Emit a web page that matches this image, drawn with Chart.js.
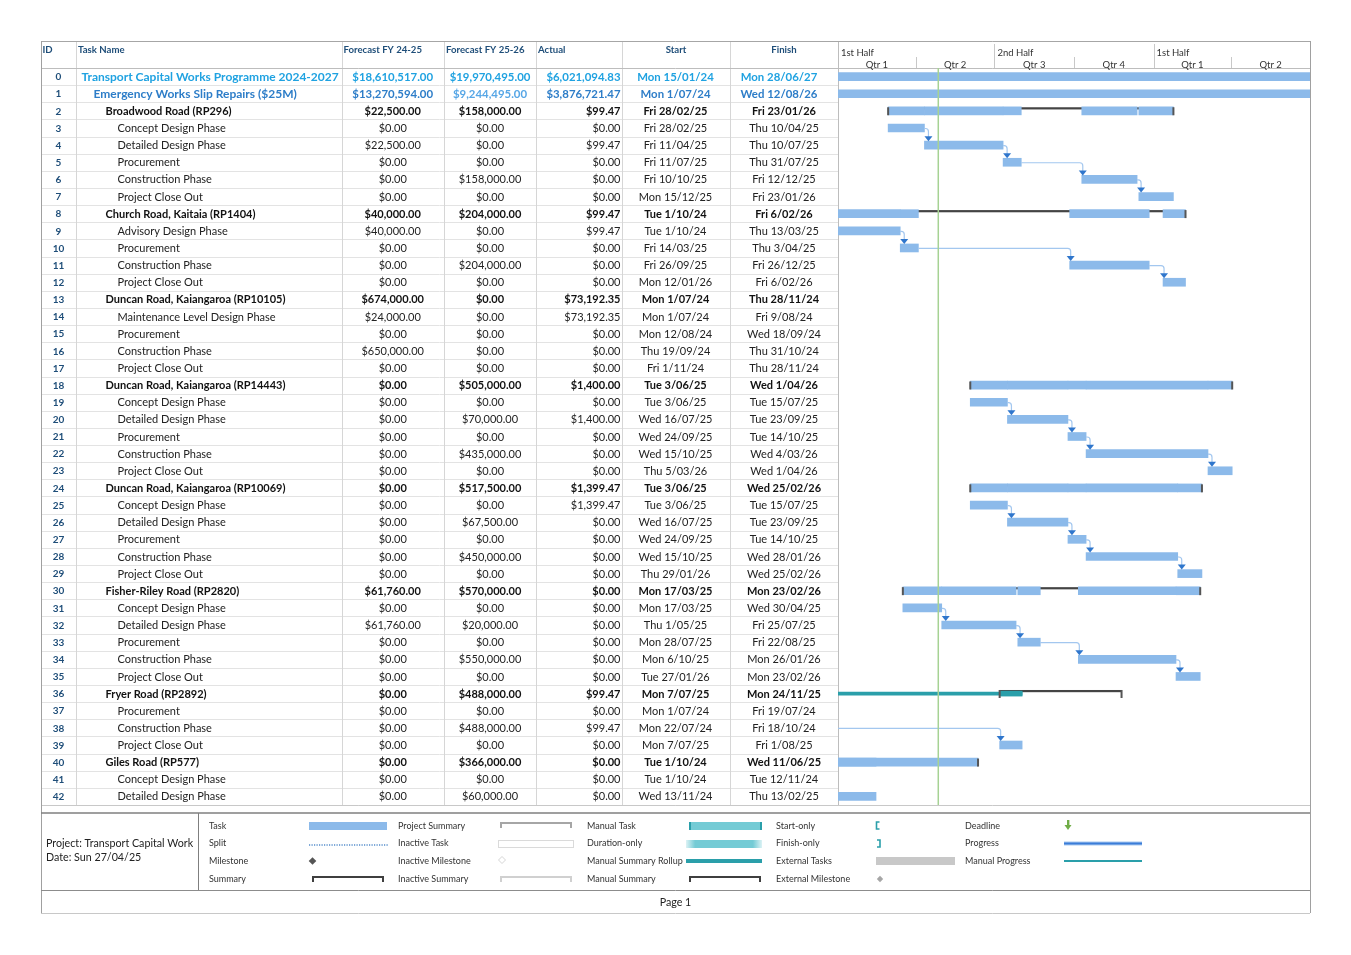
<!DOCTYPE html>
<html>
<head>
<meta charset="utf-8">
<title>Transport Capital Works Programme 2024-2027</title>
<script src="https://cdn.jsdelivr.net/npm/chart.js@4.4.1/dist/chart.umd.min.js"></script>
<style>
  html, body { margin: 0; padding: 0; background: #fff; }
  canvas { display: block; }
</style>
</head>
<body>
<canvas id="gantt" width="1351" height="955"></canvas>
<script>
// ---- data ----
const taskNames = [
  'Transport Capital Works Programme 2024-2027',
  'Emergency Works Slip Repairs ($25M)',
  'Broadwood Road (RP296)',
  'Concept Design Phase',
  'Detailed Design Phase',
  'Procurement',
  'Construction Phase',
  'Project Close Out',
  'Church Road, Kaitaia (RP1404)',
  'Advisory Design Phase',
  'Procurement',
  'Construction Phase',
  'Project Close Out',
  'Duncan Road, Kaiangaroa (RP10105)',
  'Maintenance Level Design Phase',
  'Procurement',
  'Construction Phase',
  'Project Close Out',
  'Duncan Road, Kaiangaroa (RP14443)',
  'Concept Design Phase',
  'Detailed Design Phase',
  'Procurement',
  'Construction Phase',
  'Project Close Out',
  'Duncan Road, Kaiangaroa (RP10069)',
  'Concept Design Phase',
  'Detailed Design Phase',
  'Procurement',
  'Construction Phase',
  'Project Close Out',
  'Fisher-Riley Road (RP2820)',
  'Concept Design Phase',
  'Detailed Design Phase',
  'Procurement',
  'Construction Phase',
  'Project Close Out',
  'Fryer Road (RP2892)',
  'Procurement',
  'Construction Phase',
  'Project Close Out',
  'Giles Road (RP577)',
  'Concept Design Phase',
  'Detailed Design Phase'
];

// outline level: 0 programme, 1 sub-programme, 2 project summary, 3 task
const levels = [0, 1,
  2, 3, 3, 3, 3, 3,
  2, 3, 3, 3, 3,
  2, 3, 3, 3, 3,
  2, 3, 3, 3, 3, 3,
  2, 3, 3, 3, 3, 3,
  2, 3, 3, 3, 3, 3,
  2, 3, 3, 3,
  2, 3, 3];

const forecast2425 = [18610517, 13270594,
  22500, 0, 22500, 0, 0, 0,
  40000, 40000, 0, 0, 0,
  674000, 24000, 0, 650000, 0,
  0, 0, 0, 0, 0, 0,
  0, 0, 0, 0, 0, 0,
  61760, 0, 61760, 0, 0, 0,
  0, 0, 0, 0,
  0, 0, 0];

const forecast2526 = [19970495, 9244495,
  158000, 0, 0, 0, 158000, 0,
  204000, 0, 0, 204000, 0,
  0, 0, 0, 0, 0,
  505000, 0, 70000, 0, 435000, 0,
  517500, 0, 67500, 0, 450000, 0,
  570000, 0, 20000, 0, 550000, 0,
  488000, 0, 488000, 0,
  366000, 0, 60000];

const actualCost = [6021094.83, 3876721.47,
  99.47, 0, 99.47, 0, 0, 0,
  99.47, 99.47, 0, 0, 0,
  73192.35, 73192.35, 0, 0, 0,
  1400, 0, 1400, 0, 0, 0,
  1399.47, 1399.47, 0, 0, 0, 0,
  0, 0, 0, 0, 0, 0,
  99.47, 0, 99.47, 0,
  0, 0, 0];

const startDates = ['Mon 15/01/24', 'Mon 1/07/24',
  'Fri 28/02/25', 'Fri 28/02/25', 'Fri 11/04/25', 'Fri 11/07/25', 'Fri 10/10/25', 'Mon 15/12/25',
  'Tue 1/10/24', 'Tue 1/10/24', 'Fri 14/03/25', 'Fri 26/09/25', 'Mon 12/01/26',
  'Mon 1/07/24', 'Mon 1/07/24', 'Mon 12/08/24', 'Thu 19/09/24', 'Fri 1/11/24',
  'Tue 3/06/25', 'Tue 3/06/25', 'Wed 16/07/25', 'Wed 24/09/25', 'Wed 15/10/25', 'Thu 5/03/26',
  'Tue 3/06/25', 'Tue 3/06/25', 'Wed 16/07/25', 'Wed 24/09/25', 'Wed 15/10/25', 'Thu 29/01/26',
  'Mon 17/03/25', 'Mon 17/03/25', 'Thu 1/05/25', 'Mon 28/07/25', 'Mon 6/10/25', 'Tue 27/01/26',
  'Mon 7/07/25', 'Mon 1/07/24', 'Mon 22/07/24', 'Mon 7/07/25',
  'Tue 1/10/24', 'Tue 1/10/24', 'Wed 13/11/24'];

const finishDates = ['Mon 28/06/27', 'Wed 12/08/26',
  'Fri 23/01/26', 'Thu 10/04/25', 'Thu 10/07/25', 'Thu 31/07/25', 'Fri 12/12/25', 'Fri 23/01/26',
  'Fri 6/02/26', 'Thu 13/03/25', 'Thu 3/04/25', 'Fri 26/12/25', 'Fri 6/02/26',
  'Thu 28/11/24', 'Fri 9/08/24', 'Wed 18/09/24', 'Thu 31/10/24', 'Thu 28/11/24',
  'Wed 1/04/26', 'Tue 15/07/25', 'Tue 23/09/25', 'Tue 14/10/25', 'Wed 4/03/26', 'Wed 1/04/26',
  'Wed 25/02/26', 'Tue 15/07/25', 'Tue 23/09/25', 'Tue 14/10/25', 'Wed 28/01/26', 'Wed 25/02/26',
  'Mon 23/02/26', 'Wed 30/04/25', 'Fri 25/07/25', 'Fri 22/08/25', 'Mon 26/01/26', 'Mon 23/02/26',
  'Mon 24/11/25', 'Fri 19/07/24', 'Fri 18/10/24', 'Fri 1/08/25',
  'Wed 11/06/25', 'Tue 12/11/24', 'Thu 13/02/25'];

// Giles Road rolls up tasks that continue on the next page
const offPageRollups = { 40: [['Tue 1/10/24', 'Wed 11/06/25']] };
const manualSummaries = [36];

const statusDate = 'Sun 27/04/25';
const halfStarts = ['Wed 1/01/25', 'Tue 1/07/25', 'Thu 1/01/26'];
const halfLabels = ['1st Half', '2nd Half', '1st Half'];
const quarterStarts = ['Wed 1/01/25', 'Tue 1/04/25', 'Tue 1/07/25', 'Wed 1/10/25', 'Thu 1/01/26', 'Wed 1/04/26'];
const quarterLabels = ['Qtr 1', 'Qtr 2', 'Qtr 3', 'Qtr 4', 'Qtr 1', 'Qtr 2'];
const timelineEnd = 'Wed 1/07/26';

const legendLabels = [
  ['Task', 'Split', 'Milestone', 'Summary'],
  ['Project Summary', 'Inactive Task', 'Inactive Milestone', 'Inactive Summary'],
  ['Manual Task', 'Duration-only', 'Manual Summary Rollup', 'Manual Summary'],
  ['Start-only', 'Finish-only', 'External Tasks', 'External Milestone'],
  ['Deadline', 'Progress', 'Manual Progress']
];

// ---- helpers ----
const DAY = 86400000;
function parseDate(s) {
  const [d, m, y] = s.split(' ')[1].split('/').map(Number);
  return Date.UTC(2000 + y, m - 1, d);
}
const money = v => '$' + v.toLocaleString('en-US', {minimumFractionDigits: 2, maximumFractionDigits: 2});

const ids = taskNames.map((_, i) => String(i));
const starts = startDates.map(parseDate);
const ends = finishDates.map(s => parseDate(s) + DAY);

const BLUE = '#8cbaea';
const TEAL = '#2a9faa';
const FONT = 'Lato, "Open Sans", sans-serif';

// children of each summary row, and predecessor links inside each summary
const childrenOf = {};
levels.forEach((lv, i) => {
  if (lv !== 2) return;
  childrenOf[i] = [];
  for (let j = i + 1; j < levels.length && levels[j] === 3; j++) childrenOf[i].push(j);
});
const links = [];
levels.forEach((lv, i) => { if (lv === 3 && levels[i + 1] === 3) links.push([i, i + 1]); });

function rollupSegments(i) {
  const segs = childrenOf[i].map(j => [starts[j], ends[j]]);
  (offPageRollups[i] || []).forEach(r => segs.push([parseDate(r[0]), parseDate(r[1]) + DAY]));
  return segs;
}

function rollupDatasets(manual) {
  const rows = Object.keys(childrenOf).map(Number).filter(i => manualSummaries.includes(i) === manual);
  const maxSegs = Math.max(...rows.map(i => rollupSegments(i).length));
  const sets = [];
  for (let k = 0; k < maxSegs; k++) {
    sets.push({
      label: manual ? 'Manual Rollup ' + k : 'Rollup ' + k,
      data: ids.map((_, i) => rows.includes(i) ? (rollupSegments(i)[k] || null) : null),
      backgroundColor: manual ? TEAL : BLUE,
      barThickness: manual ? 5 : 8
    });
  }
  return sets;
}

const manualSpan = ids.map((_, i) => {
  if (!manualSummaries.includes(i)) return null;
  const segs = rollupSegments(i);
  return [Math.min(...segs.map(s => s[0])), Math.max(...segs.map(s => s[1]))];
});

const rowBars = pred => ids.map((_, i) => pred(i) ? [starts[i], ends[i]] : null);

// ---- drawing helpers for the printout furniture ----
function hline(ctx, x1, x2, y, color, w) {
  ctx.strokeStyle = color; ctx.lineWidth = w || 1;
  ctx.beginPath(); ctx.moveTo(x1, y); ctx.lineTo(x2, y); ctx.stroke();
}
function vline(ctx, x, y1, y2, color, w) {
  ctx.strokeStyle = color; ctx.lineWidth = w || 1;
  ctx.beginPath(); ctx.moveTo(x, y1); ctx.lineTo(x, y2); ctx.stroke();
}
function text(ctx, s, x, y, font, color, align) {
  ctx.font = font; ctx.fillStyle = color; ctx.textAlign = align || 'left'; ctx.textBaseline = 'middle';
  ctx.fillText(s, x, y);
}
function bracket(ctx, x1, x2, y, color) {
  ctx.fillStyle = color;
  ctx.fillRect(x1, y, x2 - x1, 2);
  ctx.fillRect(x1, y, 2, 6);
  ctx.fillRect(x2 - 2, y, 2, 6);
}
function diamond(ctx, x, y, r, fill, stroke) {
  ctx.beginPath();
  ctx.moveTo(x, y - r); ctx.lineTo(x + r, y); ctx.lineTo(x, y + r); ctx.lineTo(x - r, y); ctx.closePath();
  if (fill) { ctx.fillStyle = fill; ctx.fill(); }
  if (stroke) { ctx.strokeStyle = stroke; ctx.lineWidth = 1; ctx.stroke(); }
}

const colEdges = [41, 76, 341.5, 444, 536, 622, 730, 838];

const tablePlugin = {
  id: 'taskTable',
  beforeDraw(chart) {
    const {ctx, chartArea: a, scales: {x, y}} = chart;
    const rowH = y.getPixelForValue(1) - y.getPixelForValue(0);
    ctx.save();
    ctx.fillStyle = '#fff';
    ctx.fillRect(0, 0, chart.width, chart.height);

    // row separators in the sheet
    for (let i = 0; i < ids.length; i++) {
      const yy = Math.round(y.getPixelForValue(i) + rowH / 2) + 0.5;
      hline(ctx, 41, a.left, yy, '#e3e3e3');
    }
    colEdges.slice(1, -1).forEach(cx => vline(ctx, Math.round(cx) + 0.5, 41, a.bottom, '#d6d6d6'));
    vline(ctx, a.left + 0.5, 41, a.bottom, '#bdbdbd');
    hline(ctx, 41, a.right, 41.5, '#a6a6a6');
    hline(ctx, 41, a.right, a.top + 0.5, '#bdbdbd');
    hline(ctx, 41, a.right, a.bottom + 0.5, '#c8c8c8');

    // column headers
    const hf = 'bold 9.6px ' + FONT, hc = '#1f4e79';
    text(ctx, 'ID', 42.5, 49.5, hf, hc);
    text(ctx, 'Task Name', 78, 49.5, hf, hc);
    text(ctx, 'Forecast FY 24-25', 343.5, 49.5, hf, hc);
    text(ctx, 'Forecast FY 25-26', 446, 49.5, hf, hc);
    text(ctx, 'Actual', 538, 49.5, hf, hc);
    text(ctx, 'Start', 676, 49.5, hf, hc, 'center');
    text(ctx, 'Finish', 784, 49.5, hf, hc, 'center');

    // rows
    ids.forEach((id, i) => {
      const cy = y.getPixelForValue(i) + 0.5;
      const lv = levels[i];
      let font, nameFont, col, col2;
      if (lv === 0) { nameFont = 'bold 12px ' + FONT; font = 'bold 11.4px ' + FONT; col = col2 = '#1fa2e1'; }
      else if (lv === 1) { nameFont = 'bold 12px ' + FONT; font = 'bold 11.4px ' + FONT; col = '#2d7dc8'; col2 = '#56a6e6'; }
      else if (lv === 2) { nameFont = font = 'bold 11px ' + FONT; col = col2 = '#111'; }
      else { nameFont = font = '11px ' + FONT; col = col2 = '#222'; }
      text(ctx, id, 58.5, cy, 'bold 10px ' + FONT, '#1f4e79', 'center');
      text(ctx, taskNames[i], 81.5 + lv * 12, cy, nameFont, col);
      text(ctx, money(forecast2425[i]), 392.7, cy, font, col, 'center');
      text(ctx, money(forecast2526[i]), 490, cy, font, col2, 'center');
      text(ctx, money(actualCost[i]), 620.5, cy, font, col, 'right');
      text(ctx, startDates[i], 675.5, cy, font, col, 'center');
      text(ctx, finishDates[i], lv < 2 ? 779 : 784, cy, font, col, 'center');
    });

    // timescale header, two tiers
    const tf = '9.5px ' + FONT;
    halfStarts.forEach((s, k) => {
      const hx = x.getPixelForValue(parseDate(s));
      if (k > 0) vline(ctx, Math.round(hx) + 0.5, 44, a.top, '#c8c8c8');
      text(ctx, halfLabels[k], hx + 3, 52.5, tf, '#333');
    });
    const qEdges = quarterStarts.map(parseDate).concat([parseDate(timelineEnd)]);
    quarterLabels.forEach((q, k) => {
      const q1 = x.getPixelForValue(qEdges[k]), q2 = x.getPixelForValue(qEdges[k + 1]);
      if (k > 0 && !halfStarts.includes(quarterStarts[k])) vline(ctx, Math.round(q1) + 0.5, 57, a.top, '#c8c8c8');
      text(ctx, q, (q1 + q2) / 2, 64.5, tf, '#333', 'center');
    });
    ctx.restore();
  },

  beforeDatasetsDraw(chart) {
    const {ctx, chartArea: a, scales: {x, y}} = chart;
    ctx.save();
    ctx.beginPath(); ctx.rect(a.left, a.top, a.right - a.left, a.bottom - a.top); ctx.clip();
    Object.keys(childrenOf).map(Number).forEach(i => {
      const cy = y.getPixelForValue(i);
      const x1 = x.getPixelForValue(starts[i]), x2 = x.getPixelForValue(ends[i]);
      ctx.fillStyle = '#444';
      ctx.fillRect(x1, cy - 3.6, x2 - x1, 2.2);
    });
    ctx.restore();
  },

  afterDatasetsDraw(chart) {
    const {ctx, chartArea: a, scales: {x, y}} = chart;
    ctx.save();
    ctx.beginPath(); ctx.rect(a.left, a.top, a.right - a.left, a.bottom - a.top); ctx.clip();

    // summary end caps
    Object.keys(childrenOf).map(Number).forEach(i => {
      const cy = y.getPixelForValue(i);
      const x1 = x.getPixelForValue(starts[i]), x2 = x.getPixelForValue(ends[i]);
      ctx.fillStyle = '#555';
      ctx.fillRect(x1 - 1, cy - 3.6, 2, 8);
      ctx.fillRect(x2 - 1, cy - 3.6, 2, 8);
    });

    // finish-to-start links
    links.forEach(([p, s]) => {
      const py = y.getPixelForValue(p) + 0.5;
      const top = y.getPixelForValue(s) - 4;
      const pe = x.getPixelForValue(ends[p]);
      const ax = Math.max(x.getPixelForValue(starts[s]) + 1, pe + 4);
      ctx.strokeStyle = '#a3c7ef'; ctx.lineWidth = 1.2;
      ctx.beginPath();
      ctx.moveTo(pe, py);
      ctx.lineTo(ax - 3, py);
      ctx.quadraticCurveTo(ax, py, ax, py + 3);
      ctx.lineTo(ax, top - 4);
      ctx.stroke();
      ctx.fillStyle = '#2f76cc';
      ctx.beginPath();
      ctx.moveTo(ax - 4, top - 5); ctx.lineTo(ax + 4, top - 5); ctx.lineTo(ax, top); ctx.closePath();
      ctx.fill();
    });

    // status date
    const sx = x.getPixelForValue(parseDate(statusDate));
    vline(ctx, sx, a.top, a.bottom, '#a6d294', 1.5);
    ctx.restore();
  },

  afterDraw(chart) {
    const {ctx, chartArea: a} = chart;
    ctx.save();
    // page frame, legend box and footer
    vline(ctx, 41.5, 41, 913, '#a0a0a0');
    vline(ctx, a.right + 0.5, 41, 913, '#a0a0a0');
    hline(ctx, 41, a.right, 813, '#7f7f7f', 1.5);
    hline(ctx, 41, a.right, 890.5, '#8c8c8c');
    hline(ctx, 41, a.right, 913.5, '#c8c8c8');
    vline(ctx, 198.5, 813, 890, '#7f7f7f');

    text(ctx, 'Project: Transport Capital Work', 46, 843.5, '10.7px ' + FONT, '#222');
    text(ctx, 'Date: ' + statusDate, 46, 858, '10.7px ' + FONT, '#222');

    const ly = [826, 843.5, 861, 879];
    const lx = [209, 398, 587, 776, 965];
    const lf = '9px ' + FONT;
    legendLabels.forEach((col, c) => col.forEach((lab, r) => text(ctx, lab, lx[c], ly[r], lf, '#333')));

    // column 1 symbols
    ctx.fillStyle = BLUE; ctx.fillRect(309, 822, 78, 8);
    ctx.fillStyle = '#7fa9d8';
    for (let px = 309; px < 387; px += 2.5) ctx.fillRect(px, 844, 1.2, 2);
    diamond(ctx, 312.5, 861, 3.8, '#555');
    bracket(ctx, 312, 384, 876, '#3f3f3f');
    // column 2
    bracket(ctx, 500, 572, 822, '#a6a6a6');
    ctx.strokeStyle = '#dadada'; ctx.lineWidth = 1; ctx.strokeRect(498.5, 840.5, 75, 7);
    diamond(ctx, 502, 860, 3.5, null, '#d6d6d6');
    bracket(ctx, 500, 572, 876, '#d0d0d0');
    // column 3
    ctx.fillStyle = '#74cbd5'; ctx.fillRect(689, 822, 73, 8);
    ctx.fillStyle = TEAL; ctx.fillRect(689, 822, 2, 8); ctx.fillRect(760, 822, 2, 8);
    const g = ctx.createLinearGradient(686, 0, 762, 0);
    g.addColorStop(0, 'rgba(116,203,213,0.25)'); g.addColorStop(0.12, '#74cbd5');
    g.addColorStop(0.88, '#74cbd5'); g.addColorStop(1, 'rgba(116,203,213,0.25)');
    ctx.fillStyle = g; ctx.fillRect(686, 840, 76, 8);
    ctx.fillStyle = TEAL; ctx.fillRect(686, 859, 76, 4);
    bracket(ctx, 689, 761, 876, '#3f3f3f');
    // column 4
    ctx.strokeStyle = TEAL; ctx.lineWidth = 1.6;
    ctx.beginPath(); ctx.moveTo(879.5, 822); ctx.lineTo(876.5, 822); ctx.lineTo(876.5, 829); ctx.lineTo(879.5, 829); ctx.stroke();
    ctx.beginPath(); ctx.moveTo(877, 840); ctx.lineTo(880, 840); ctx.lineTo(880, 847); ctx.lineTo(877, 847); ctx.stroke();
    ctx.fillStyle = '#c8c8c8'; ctx.fillRect(876, 857, 79, 8);
    diamond(ctx, 880, 879, 3.2, '#a6a6a6');
    // column 5
    ctx.fillStyle = '#70ad47';
    ctx.fillRect(1067, 820, 2.4, 6);
    ctx.beginPath(); ctx.moveTo(1064.5, 825); ctx.lineTo(1071.5, 825); ctx.lineTo(1068, 830); ctx.closePath(); ctx.fill();
    ctx.fillStyle = '#a9c9f0'; ctx.fillRect(1064, 841.5, 78, 4);
    ctx.fillStyle = '#3b7dd8'; ctx.fillRect(1064, 842.5, 78, 2);
    ctx.fillStyle = TEAL; ctx.fillRect(1064, 860, 78, 2);

    text(ctx, 'Page 1', 675.5, 903, '10.7px ' + FONT, '#222', 'center');
    ctx.restore();
  }
};

function build() {
  const datasets = [
    {label: 'Project Summary', data: rowBars(i => levels[i] < 2), backgroundColor: BLUE, barThickness: 8},
    {label: 'Task', data: rowBars(i => levels[i] === 3), backgroundColor: BLUE, barThickness: 8},
    ...rollupDatasets(false),
    ...rollupDatasets(true),
    {label: 'Manual Summary Rollup', data: manualSpan, backgroundColor: TEAL, barThickness: 3}
  ].map(d => Object.assign(d, {grouped: false, borderWidth: 0, borderSkipped: false, clip: 0}));

  new Chart(document.getElementById('gantt'), {
    type: 'bar',
    data: {labels: ids, datasets: datasets},
    options: {
      indexAxis: 'y',
      responsive: false,
      animation: false,
      devicePixelRatio: 1,
      layout: {padding: {left: 838, top: 68, right: 41, bottom: 150}},
      scales: {
        x: {type: 'linear', min: parseDate(quarterStarts[0]), max: parseDate(timelineEnd), display: false},
        y: {type: 'category', offset: true, display: false}
      },
      plugins: {legend: {display: false}, tooltip: {enabled: false}}
    },
    plugins: [tablePlugin]
  });
}

Promise.all(['11px Lato', 'bold 11px Lato'].map(f => document.fonts.load(f)))
  .catch(() => null)
  .then(build);
</script>
</body>
</html>
